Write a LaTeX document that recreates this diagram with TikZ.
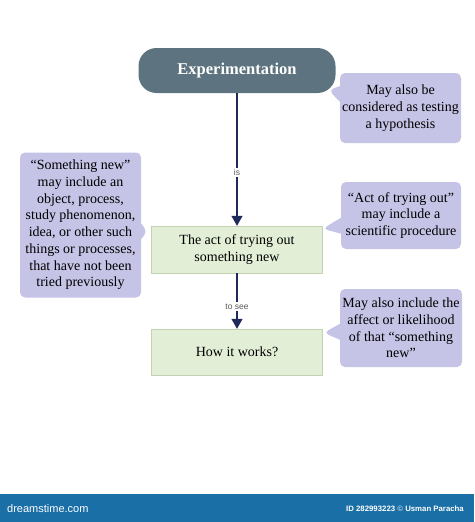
\documentclass[tikz,border=0pt]{standalone}
\usepackage{fontspec}
\setmainfont{Liberation Serif}
\newfontfamily\barfont{Liberation Sans}
\usetikzlibrary{arrows.meta,shapes.callouts,calc}
\definecolor{slate}{HTML}{5D7480}
\definecolor{lavender}{HTML}{C5C3E6}
\definecolor{paleleaf}{HTML}{E3EED6}
\definecolor{leafline}{HTML}{C3D2B2}
\definecolor{navy}{HTML}{1F2A5C}
\definecolor{barblue}{HTML}{1A6FA6}

\begin{document}
\begin{tikzpicture}[x=1pt, y=-1pt,
	every node/.style={font=\fontsize{14}{16.7}\selectfont, align=center, inner sep=2pt},
	headbox/.style={fill=slate, text=white, font=\fontsize{16.5}{18}\selectfont\bfseries, rounded corners=18pt, minimum width=197pt, minimum height=45pt},
	stepbox/.style={fill=paleleaf, draw=leafline, minimum width=171pt, minimum height=47pt},
	note/.style={rectangle callout, fill=lavender, rounded corners=5pt, callout pointer width=16pt},
	linklabel/.style={font=\barfont\fontsize{8.5}{9}\selectfont, text=black!65, fill=white, inner sep=1.5pt, pos=0.6},
	>={Triangle[length=10pt, width=11pt]}]
	\useasboundingbox (0,0) rectangle (474,522);
	\node[headbox] (exp) at (237,70.5) {Experimentation};
	\node[stepbox] (act) at (237,249.5) {The act of trying out\\something new};
	\node[stepbox, minimum height=46pt] (how) at (237,352) {How it works?};

	\node[note, minimum width=121pt, minimum height=70pt, callout absolute pointer={($(exp.south east)+(-7,-3)$)}] (testing) at (400.5,108) {May also be\\considered as testing\\a hypothesis};
	\node[note, minimum width=121pt, minimum height=145pt, callout absolute pointer={($(act.north west)+(-4,6)$)}] (newthing) at (80.5,225) {``Something new''\\may include an\\object, process,\\study phenomenon,\\idea, or other such\\things or processes,\\that have not been\\tried previously};
	\node[note, minimum width=120pt, minimum height=67pt, callout absolute pointer={($(act.north east)+(0,3)$)}] (procedure) at (401,215.5) {``Act of trying out''\\may include a\\scientific procedure};
	\node[note, minimum width=122pt, minimum height=78pt, callout absolute pointer={($(how.north east)+(1,4)$)}] (likelihood) at (401,328) {May also include the\\affect or likelihood\\of that ``something\\new''};

	\draw[->, navy, line width=1.2pt] (exp) -- node[linklabel] {is} (act);
	\draw[->, navy, line width=1.2pt] (act) -- node[linklabel] {to see} (how);

	\fill[barblue] (0,494) rectangle (474,522);
	\node[anchor=west, text=white, font=\barfont\fontsize{11}{12}\selectfont] (brand) at (5,509) {dreamstime.com};
	\node[anchor=east, text=white, font=\barfont\bfseries\fontsize{7.8}{9}\selectfont] (credit) at (466,509) {ID 282993223 \textcolor{white!70!barblue}{©} Usman Paracha};
\end{tikzpicture}
\end{document}
